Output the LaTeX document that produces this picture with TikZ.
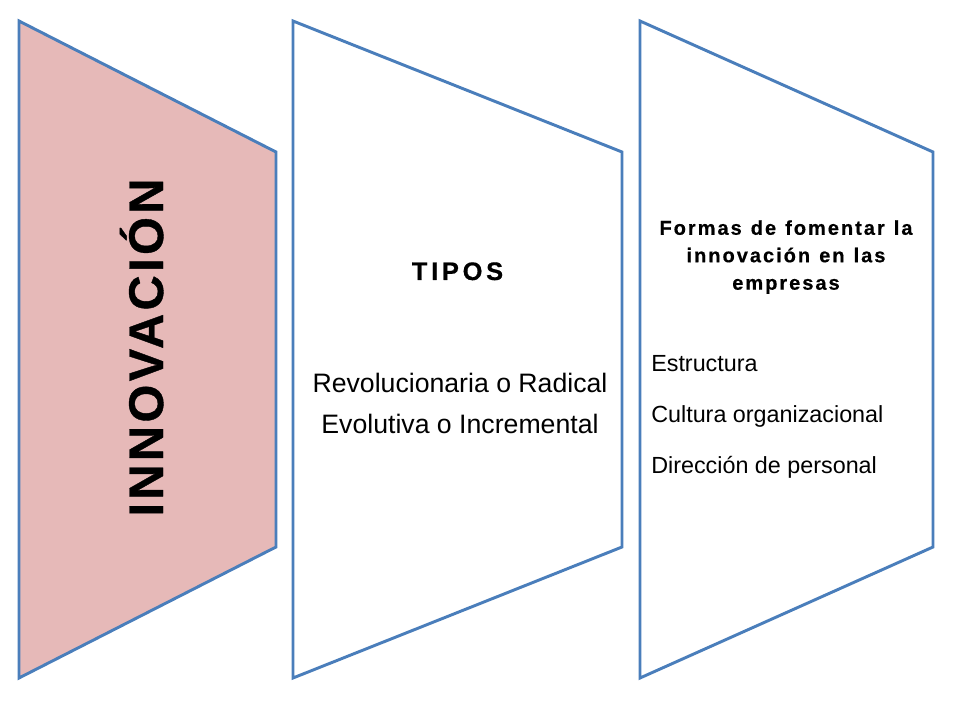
\documentclass[tikz,border=0pt]{standalone}
\usepackage{fontspec}
\setmainfont{Liberation Sans}
\newfontfamily\titulofont{Liberation Sans Bold}[LetterSpace=7,FakeBold=0.8]
\newfontfamily\tiposfont{Liberation Sans Bold}[LetterSpace=15,FakeBold=0.6]
\newfontfamily\formasfont{Liberation Sans Bold}[LetterSpace=10,WordSpace=1.2,FakeBold=0.5]
\definecolor{bordeazul}{HTML}{4A7EBB}
\definecolor{rosa}{HTML}{E6B9B8}
\tikzset{
  panel/.style={draw=bordeazul, line width=2.2pt, line join=miter},
  lista/.style={anchor=base west, inner sep=0pt, font=\fontsize{17.5}{21}\selectfont}
}
\begin{document}
\begin{tikzpicture}[x=0.75pt, y=-0.75pt]
    \useasboundingbox (0,0) rectangle (960,720);

    % Paneles
    \draw[panel, fill=rosa] (19,21) -- (276,152) -- (276,547) -- (19,678) -- cycle;
    \draw[panel, fill=white] (293,21) -- (622,152) -- (622,547) -- (293,678) -- cycle;
    \draw[panel, fill=white] (640,21) -- (933,152) -- (933,547) -- (640,678) -- cycle;

    % Titulo
    \node[rotate=90, anchor=base, inner sep=0pt] (innov) at (163,347.5)
        {\titulofont\fontsize{36.5}{40}\selectfont INNOVACIÓN};

    % Tipos
    \node[anchor=base, inner sep=0pt] (tipos) at (457.5,280)
        {\tiposfont\fontsize{19}{22}\selectfont TIPOS};
    \node[anchor=base, inner sep=0pt, font=\fontsize{20}{24}\selectfont] (radical) at (460,392)
        {Revolucionaria o Radical};
    \node[anchor=base, inner sep=0pt, font=\fontsize{20}{24}\selectfont] (incremental) at (460,433)
        {Evolutiva o Incremental};

    % Formas de fomentar
    \node[anchor=north, inner sep=0pt, align=center,
          font=\formasfont\fontsize{15}{20.6}\selectfont] (formas) at (786,220)
        {Formas de fomentar la\\innovación en las\\empresas};
    \node[lista] (estructura) at (651,371) {Estructura};
    \node[lista] (cultura) at (651,422) {Cultura organizacional};
    \node[lista] (direccion) at (651,473) {Dirección de personal};
\end{tikzpicture}
\end{document}
